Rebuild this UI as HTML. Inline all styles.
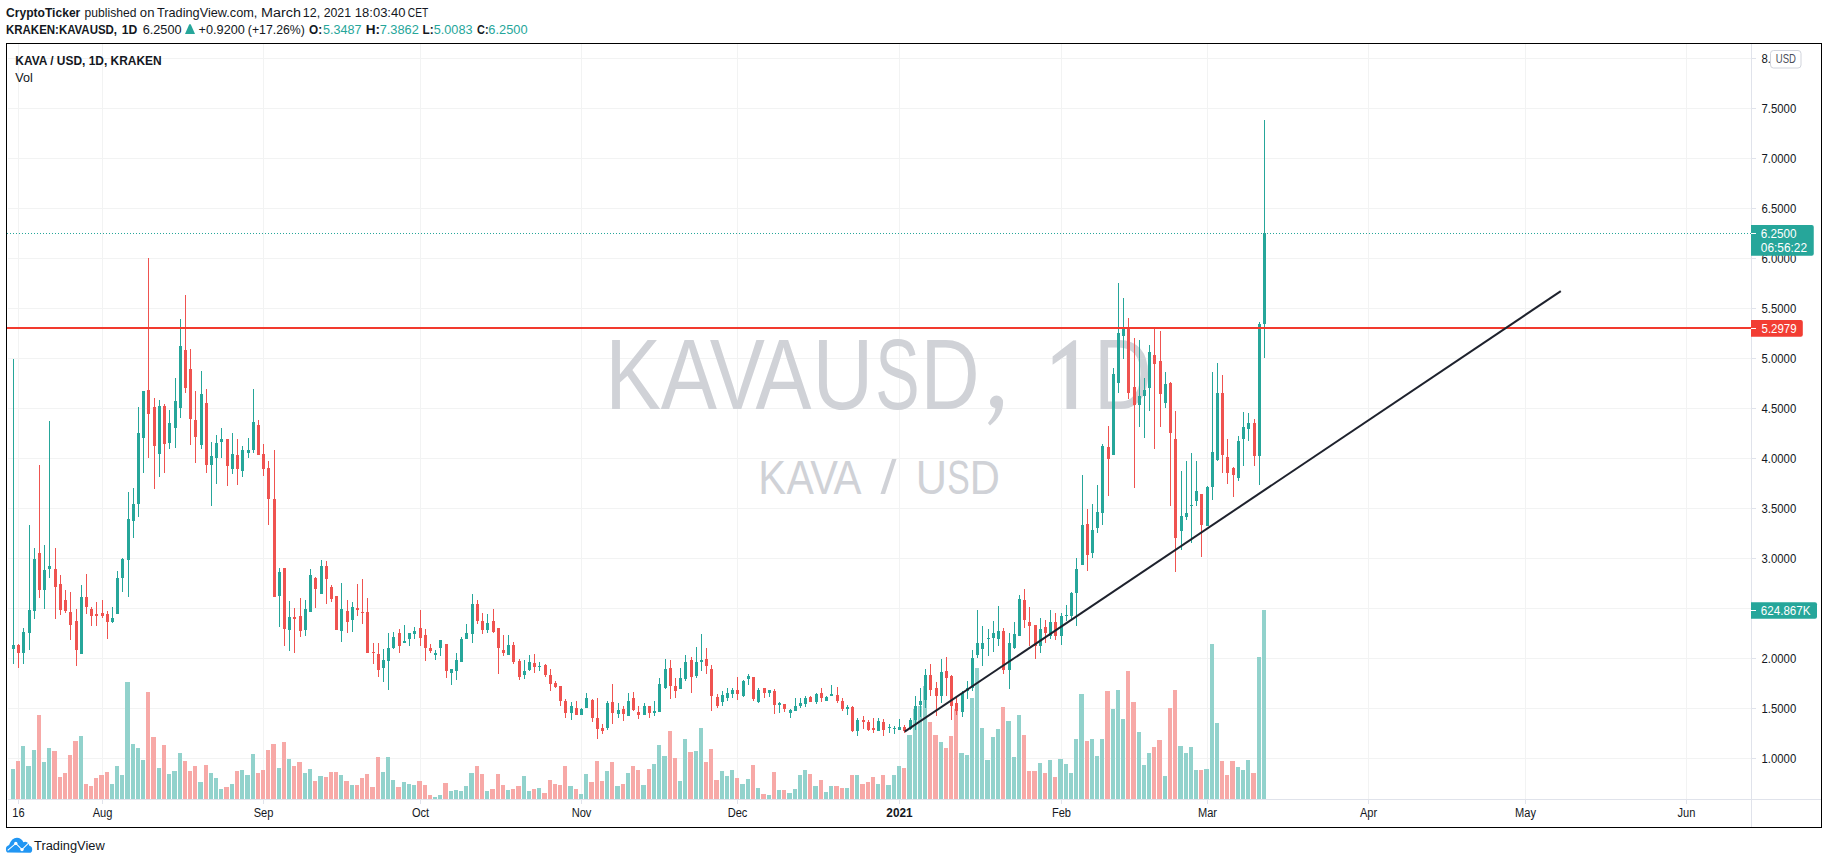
<!DOCTYPE html><html><head><meta charset="utf-8"><title>KAVAUSD</title>
<style>html,body{margin:0;padding:0;background:#fff;overflow:hidden}svg{display:block}text{font-family:"Liberation Sans",sans-serif}</style></head><body>
<svg width="1828" height="864" viewBox="0 0 1828 864">
<rect width="1828" height="864" fill="#fff"/>
<text transform="translate(6.00,17) scale(0.9830,1)" font-size="12.3" fill="#131722" font-weight="bold">CryptoTicker</text>
<text transform="translate(84.62,17) scale(0.9848,1)" font-size="12.3" fill="#131722">published</text>
<text transform="translate(139.85,17) scale(1.0674,1)" font-size="12.3" fill="#131722">on</text>
<text transform="translate(157.01,17) scale(1.0345,1)" font-size="12.3" fill="#131722">TradingView.com,</text>
<text transform="translate(261.12,17) scale(1.1679,1)" font-size="12.3" fill="#131722">March</text>
<text transform="translate(302.75,17) scale(1.0162,1)" font-size="12.3" fill="#131722">12,</text>
<text transform="translate(323.68,17) scale(1.0022,1)" font-size="12.3" fill="#131722">2021</text>
<text transform="translate(354.81,17) scale(1.0589,1)" font-size="12.3" fill="#131722">18:03:40</text>
<text transform="translate(407.78,17) scale(0.8315,1)" font-size="12.3" fill="#131722">CET</text>
<text transform="translate(6.03,33.6) scale(0.9337,1)" font-size="12.3" fill="#131722" font-weight="bold">KRAKEN:KAVAUSD,</text>
<text transform="translate(121.73,33.6) scale(0.9908,1)" font-size="12.3" fill="#131722" font-weight="bold">1D</text>
<text transform="translate(142.65,33.6) scale(1.0352,1)" font-size="12.3" fill="#131722">6.2500</text>
<text transform="translate(198.58,33.6) scale(1.0338,1)" font-size="12.3" fill="#131722">+0.9200</text>
<text transform="translate(247.84,33.6) scale(0.9988,1)" font-size="12.3" fill="#131722">(+17.26%)</text>
<text transform="translate(309.02,33.6) scale(0.9603,1)" font-size="12.3" fill="#131722" font-weight="bold">O:</text>
<text transform="translate(323.10,33.6) scale(1.0244,1)" font-size="12.3" fill="#26a69a">5.3487</text>
<text transform="translate(365.79,33.6) scale(1.1027,1)" font-size="12.3" fill="#131722" font-weight="bold">H:</text>
<text transform="translate(379.64,33.6) scale(1.0420,1)" font-size="12.3" fill="#26a69a">7.3862</text>
<text transform="translate(422.61,33.6) scale(0.9580,1)" font-size="12.3" fill="#131722" font-weight="bold">L:</text>
<text transform="translate(433.69,33.6) scale(1.0331,1)" font-size="12.3" fill="#26a69a">5.0083</text>
<text transform="translate(477.05,33.6) scale(0.8857,1)" font-size="12.3" fill="#131722" font-weight="bold">C:</text>
<text transform="translate(488.35,33.6) scale(1.0434,1)" font-size="12.3" fill="#26a69a">6.2500</text>
<path d="M185 33.9L189.3 24.2H190.7L195 33.9Z" fill="#26a69a"/>
<path d="M8 758.5H1751 M8 708.5H1751 M8 658.5H1751 M8 608.5H1751 M8 558.5H1751 M8 508.5H1751 M8 458.5H1751 M8 408.5H1751 M8 358.5H1751 M8 308.5H1751 M8 258.5H1751 M8 208.5H1751 M8 158.5H1751 M8 108.5H1751 M8 58.5H1751 M18.5 44V799 M102.5 44V799 M263.5 44V799 M420.5 44V799 M581.5 44V799 M737.5 44V799 M899.5 44V799 M1061.5 44V799 M1207.5 44V799 M1368.5 44V799 M1525.5 44V799 M1686.5 44V799" stroke="rgba(42,46,57,0.06)" stroke-width="1" fill="none" shape-rendering="crispEdges"/>
<text transform="translate(605.34,409) scale(0.8341,1)" font-size="100.3" fill="#d0d2d7">K</text>
<text transform="translate(660.64,409) scale(0.8405,1)" font-size="100.3" fill="#d0d2d7">A</text>
<text transform="translate(709.64,409) scale(0.8240,1)" font-size="100.3" fill="#d0d2d7">V</text>
<text transform="translate(755.54,409) scale(0.8360,1)" font-size="100.3" fill="#d0d2d7">A</text>
<text transform="translate(812.61,409) scale(0.8392,1)" font-size="100.3" fill="#d0d2d7">U</text>
<text transform="translate(875.28,409) scale(0.6633,1)" font-size="100.3" fill="#d0d2d7">S</text>
<text transform="translate(920.58,409) scale(0.8164,1)" font-size="100.3" fill="#d0d2d7">D</text>
<text transform="translate(1094.02,409) scale(0.7996,1)" font-size="100.3" fill="#d0d2d7">D</text>
<path d="M1076.1 340.2V409H1066.5V354.9L1052.6 364.7V356.6L1073.5 340.2Z" fill="#d0d2d7"/>
<path d="M990 402A6.5 6.5 0 0 1 1003.1 402C1003.1 412 998 419 990 425.6L987.9 422.9C993 417 995.5 412 995.3 408C992 407.5 990 405 990 402Z" fill="#d0d2d7"/>
<text transform="translate(758.37,494) scale(0.8537,1)" font-size="49.0" fill="#d0d2d7">K</text>
<text transform="translate(786.62,494) scale(0.8341,1)" font-size="49.0" fill="#d0d2d7">A</text>
<text transform="translate(810.22,494) scale(0.8465,1)" font-size="49.0" fill="#d0d2d7">V</text>
<text transform="translate(833.52,494) scale(0.8556,1)" font-size="49.0" fill="#d0d2d7">A</text>
<text transform="translate(880.50,494) scale(1.1753,1)" font-size="49.0" fill="#d0d2d7">/</text>
<text transform="translate(915.76,494) scale(0.8841,1)" font-size="49.0" fill="#d0d2d7">U</text>
<text transform="translate(947.37,494) scale(0.6877,1)" font-size="49.0" fill="#d0d2d7">S</text>
<text transform="translate(969.68,494) scale(0.8511,1)" font-size="49.0" fill="#d0d2d7">D</text>
<path d="M11 769H15V799H11ZM21 746H25V799H21ZM26 766H31V799H26ZM32 750H36V799H32ZM42 762H46V799H42ZM47 748H51V799H47ZM79 736H83V799H79ZM110 784H114V799H110ZM115 766H119V799H115ZM120 775H124V799H120ZM125 682H130V799H125ZM131 744H135V799H131ZM136 748H140V799H136ZM141 760H145V799H141ZM157 768H161V799H157ZM167 774H171V799H167ZM172 771H177V799H172ZM178 753H182V799H178ZM198 782H203V799H198ZM209 773H213V799H209ZM214 778H218V799H214ZM219 789H223V799H219ZM230 784H234V799H230ZM240 770H244V799H240ZM245 775H250V799H245ZM251 754H255V799H251ZM277 768H281V799H277ZM287 759H291V799H287ZM303 773H307V799H303ZM308 769H312V799H308ZM318 776H323V799H318ZM339 775H343V799H339ZM350 785H354V799H350ZM381 772H385V799H381ZM386 757H390V799H386ZM391 780H395V799H391ZM402 782H406V799H402ZM407 784H411V799H407ZM412 785H416V799H412ZM433 797H437V799H433ZM438 795H442V799H438ZM449 791H453V799H449ZM454 790H458V799H454ZM459 791H463V799H459ZM464 786H468V799H464ZM469 773H474V799H469ZM485 791H489V799H485ZM506 790H510V799H506ZM522 776H526V799H522ZM527 791H531V799H527ZM537 788H541V799H537ZM568 786H573V799H568ZM579 794H583V799H579ZM584 774H588V799H584ZM605 771H609V799H605ZM615 786H620V799H615ZM626 773H630V799H626ZM641 785H646V799H641ZM652 764H656V799H652ZM657 745H661V799H657ZM662 756H667V799H662ZM678 781H682V799H678ZM683 739H687V799H683ZM694 751H698V799H694ZM699 728H703V799H699ZM720 771H724V799H720ZM725 776H729V799H725ZM730 770H734V799H730ZM740 784H745V799H740ZM746 779H750V799H746ZM756 788H760V799H756ZM767 795H771V799H767ZM777 790H781V799H777ZM787 793H792V799H787ZM793 789H797V799H793ZM798 775H802V799H798ZM803 770H807V799H803ZM813 786H818V799H813ZM824 792H828V799H824ZM829 786H833V799H829ZM845 788H849V799H845ZM855 775H859V799H855ZM876 784H880V799H876ZM886 785H891V799H886ZM892 775H896V799H892ZM897 766H901V799H897ZM907 735H912V799H907ZM913 709H917V799H913ZM918 706H922V799H918ZM923 686H927V799H923ZM939 742H943V799H939ZM959 753H964V799H959ZM965 755H969V799H965ZM970 698H974V799H970ZM975 668H979V799H975ZM980 728H984V799H980ZM985 760H990V799H985ZM991 737H995V799H991ZM996 729H1000V799H996ZM1006 721H1011V799H1006ZM1012 757H1016V799H1012ZM1017 715H1021V799H1017ZM1038 763H1042V799H1038ZM1048 760H1052V799H1048ZM1058 759H1063V799H1058ZM1064 764H1068V799H1064ZM1069 773H1073V799H1069ZM1074 739H1078V799H1074ZM1079 694H1084V799H1079ZM1090 739H1094V799H1090ZM1095 756H1099V799H1095ZM1100 739H1104V799H1100ZM1111 709H1115V799H1111ZM1116 690H1120V799H1116ZM1121 719H1125V799H1121ZM1137 732H1141V799H1137ZM1142 765H1146V799H1142ZM1147 753H1151V799H1147ZM1163 776H1167V799H1163ZM1178 746H1183V799H1178ZM1184 753H1188V799H1184ZM1189 747H1193V799H1189ZM1194 770H1198V799H1194ZM1204 769H1209V799H1204ZM1210 644H1214V799H1210ZM1215 723H1219V799H1215ZM1236 767H1240V799H1236ZM1241 770H1245V799H1241ZM1246 760H1250V799H1246ZM1257 657H1261V799H1257ZM1262 610H1266V799H1262Z" fill="#92d2cc" shape-rendering="crispEdges"/>
<path d="M16 761H20V799H16ZM37 715H41V799H37ZM52 751H57V799H52ZM58 777H62V799H58ZM63 773H67V799H63ZM68 755H72V799H68ZM73 741H78V799H73ZM84 784H88V799H84ZM89 786H93V799H89ZM94 778H98V799H94ZM99 775H104V799H99ZM105 772H109V799H105ZM146 692H150V799H146ZM151 737H156V799H151ZM162 745H166V799H162ZM183 761H187V799H183ZM188 771H192V799H188ZM193 766H197V799H193ZM204 765H208V799H204ZM224 787H229V799H224ZM235 771H239V799H235ZM256 773H260V799H256ZM261 770H265V799H261ZM266 750H270V799H266ZM271 744H276V799H271ZM282 742H286V799H282ZM292 766H296V799H292ZM297 762H302V799H297ZM313 781H317V799H313ZM324 777H328V799H324ZM329 772H333V799H329ZM334 772H338V799H334ZM344 781H349V799H344ZM355 785H359V799H355ZM360 778H364V799H360ZM365 774H369V799H365ZM370 787H375V799H370ZM376 757H380V799H376ZM396 787H401V799H396ZM417 781H422V799H417ZM423 785H427V799H423ZM428 795H432V799H428ZM443 783H448V799H443ZM475 766H479V799H475ZM480 774H484V799H480ZM490 789H495V799H490ZM496 774H500V799H496ZM501 785H505V799H501ZM511 789H515V799H511ZM516 786H521V799H516ZM532 789H536V799H532ZM542 793H547V799H542ZM548 780H552V799H548ZM553 784H557V799H553ZM558 785H562V799H558ZM563 766H567V799H563ZM574 789H578V799H574ZM589 782H594V799H589ZM595 761H599V799H595ZM600 781H604V799H600ZM610 762H614V799H610ZM621 784H625V799H621ZM631 766H635V799H631ZM636 770H640V799H636ZM647 769H651V799H647ZM668 731H672V799H668ZM673 758H677V799H673ZM688 752H693V799H688ZM704 762H708V799H704ZM709 749H713V799H709ZM714 780H719V799H714ZM735 778H739V799H735ZM751 765H755V799H751ZM761 794H766V799H761ZM772 772H776V799H772ZM782 790H786V799H782ZM808 774H812V799H808ZM819 780H823V799H819ZM834 786H839V799H834ZM840 788H844V799H840ZM850 775H854V799H850ZM860 784H865V799H860ZM866 782H870V799H866ZM871 777H875V799H871ZM881 775H885V799H881ZM902 768H906V799H902ZM928 722H932V799H928ZM933 735H938V799H933ZM944 748H948V799H944ZM949 736H953V799H949ZM954 709H958V799H954ZM1001 707H1005V799H1001ZM1022 735H1026V799H1022ZM1027 771H1031V799H1027ZM1032 771H1037V799H1032ZM1043 773H1047V799H1043ZM1053 777H1057V799H1053ZM1085 741H1089V799H1085ZM1105 691H1110V799H1105ZM1126 671H1130V799H1126ZM1131 702H1136V799H1131ZM1152 747H1156V799H1152ZM1157 740H1162V799H1157ZM1168 708H1172V799H1168ZM1173 690H1177V799H1173ZM1199 770H1203V799H1199ZM1220 761H1224V799H1220ZM1225 775H1229V799H1225ZM1230 761H1235V799H1230ZM1251 773H1256V799H1251Z" fill="#f7a9a7" shape-rendering="crispEdges"/>
<path d="M13 359H14V664H13Z M12 645H15V649H12ZM23 628H24V664H23Z M22 632H25V653H22ZM29 525H30V650H29Z M28 610H31V633H28ZM34 548H35V619H34Z M33 559H36V611H33ZM44 545H45V609H44Z M43 570H46V590H43ZM49 421H50V578H49Z M48 566H51V569H48ZM81 585H82V654H81Z M80 597H83V654H80ZM112 607H113V623H112Z M111 618H114V622H111ZM117 571H118V614H117Z M116 578H119V614H116ZM122 558H123V592H122Z M121 559H124V578H121ZM128 492H129V597H128Z M127 519H130V560H127ZM133 488H134V538H133Z M132 504H135V521H132ZM138 407H139V517H138Z M137 433H140V504H137ZM143 391H144V473H143Z M142 391H145V438H142ZM159 400H160V477H159Z M158 406H161V454H158ZM169 410H170V449H169Z M168 423H171V443H168ZM175 378H176V448H175Z M174 401H177V428H174ZM180 319H181V418H180Z M179 346H182V408H179ZM201 371H202V449H201Z M200 394H203V445H200ZM211 442H212V506H211Z M210 456H213V465H210ZM216 435H217V484H216Z M215 443H218V458H215ZM221 428H222V458H221Z M220 439H223V442H220ZM232 433H233V474H232Z M231 454H234V469H231ZM242 446H243V477H242Z M241 450H244V471H241ZM248 438H249V458H248Z M247 450H250V453H247ZM253 389H254V453H253Z M252 422H255V450H252ZM279 568H280V627H279Z M278 572H281V596H278ZM289 601H290V651H289Z M288 617H291V630H288ZM305 600H306V636H305Z M304 609H307V630H304ZM310 569H311V612H310Z M309 575H312V612H309ZM321 560H322V594H321Z M320 566H323V594H320ZM341 583H342V642H341Z M340 609H343V631H340ZM352 602H353V632H352Z M351 607H354V620H351ZM383 649H384V682H383Z M382 660H385V668H382ZM388 633H389V690H388Z M387 648H390V661H387ZM393 632H394V649H393Z M392 637H395V648H392ZM404 625H405V643H404Z M403 641H406V643H403ZM409 633H410V646H409Z M408 633H411V639H408ZM414 627H415V639H414Z M413 631H416V634H413ZM435 650H436V660H435Z M434 653H437V655H434ZM440 640H441V656H440Z M439 640H442V648H439ZM451 669H452V685H451Z M450 669H453V673H450ZM456 653H457V680H456Z M455 660H458V671H455ZM461 637H462V662H461Z M460 639H463V662H460ZM466 624H467V639H466Z M465 633H468V639H465ZM472 594H473V643H472Z M471 604H474V634H471ZM487 614H488V633H487Z M486 623H489V630H486ZM508 635H509V655H508Z M507 645H510V655H507ZM524 660H525V679H524Z M523 671H526V675H523ZM529 655H530V671H529Z M528 662H531V670H528ZM539 662H540V671H539Z M538 666H541V667H538ZM571 702H572V720H571Z M570 706H573V713H570ZM581 708H582V715H581Z M580 709H583V715H580ZM586 693H587V708H586Z M585 698H588V708H585ZM607 701H608V730H607Z M606 703H609V728H606ZM618 703H619V718H618Z M617 710H620V714H617ZM628 693H629V716H628Z M627 701H630V716H627ZM644 703H645V715H644Z M643 706H646V715H643ZM654 701H655V716H654Z M653 711H656V713H653ZM659 678H660V712H659Z M658 684H661V712H658ZM665 659H666V689H665Z M664 669H667V688H664ZM680 668H681V689H680Z M679 678H682V689H679ZM685 655H686V681H685Z M684 662H687V679H684ZM696 647H697V678H696Z M695 662H698V676H695ZM701 634H702V671H701Z M700 660H703V662H700ZM722 691H723V706H722Z M721 695H724V702H721ZM727 688H728V701H727Z M726 693H729V698H726ZM732 688H733V698H732Z M731 690H734V694H731ZM743 680H744V697H743Z M742 681H745V696H742ZM748 674H749V685H748Z M747 676H750V679H747ZM758 688H759V703H758Z M757 690H760V702H757ZM769 690H770V697H769Z M768 690H771V693H768ZM779 702H780V713H779Z M778 703H781V705H778ZM790 709H791V718H790Z M789 710H792V713H789ZM795 698H796V711H795Z M794 706H797V711H794ZM800 698H801V708H800Z M799 703H802V706H799ZM805 696H806V707H805Z M804 698H807V704H804ZM816 693H817V704H816Z M815 694H818V702H815ZM826 696H827V701H826Z M825 697H828V701H825ZM831 685H832V696H831Z M830 694H833V696H830ZM847 705H848V715H847Z M846 707H849V709H846ZM857 718H858V736H857Z M856 720H859V731H856ZM878 718H879V731H878Z M877 721H880V731H877ZM889 724H890V733H889Z M888 727H891V728H888ZM894 726H895V734H894Z M893 728H896V729H893ZM899 719H900V730H899Z M898 727H901V730H898ZM910 718H911V730H910Z M909 720H912V729H909ZM915 696H916V730H915Z M914 706H917V720H914ZM920 688H921V717H920Z M919 701H922V705H919ZM925 669H926V708H925Z M924 675H927V700H924ZM941 659H942V703H941Z M940 672H943V696H940ZM962 691H963V717H962Z M961 693H964V712H961ZM967 681H968V699H967Z M966 688H969V691H966ZM972 650H973V691H972Z M971 658H974V688H971ZM977 610H978V658H977Z M976 643H979V655H976ZM982 626H983V666H982Z M981 643H984V649H981ZM988 629H989V656H988Z M987 638H990V639H987ZM993 621H994V652H993Z M992 633H995V638H992ZM998 606H999V646H998Z M997 631H1000V639H997ZM1009 633H1010V689H1009Z M1008 643H1011V670H1008ZM1014 622H1015V649H1014Z M1013 634H1016V648H1013ZM1019 595H1020V636H1019Z M1018 599H1021V636H1018ZM1040 618H1041V653H1040Z M1039 629H1042V646H1039ZM1050 610H1051V639H1050Z M1049 622H1052V636H1049ZM1061 613H1062V645H1061Z M1060 616H1063V636H1060ZM1066 605H1067V621H1066Z M1065 615H1068V616H1065ZM1071 592H1072V619H1071Z M1070 593H1073V616H1070ZM1076 558H1077V626H1076Z M1075 569H1078V593H1075ZM1082 475H1083V565H1082Z M1081 525H1084V565H1081ZM1092 504H1093V558H1092Z M1091 530H1094V553H1091ZM1097 485H1098V533H1097Z M1096 512H1099V528H1096ZM1102 444H1103V525H1102Z M1101 446H1104V513H1101ZM1113 368H1114V455H1113Z M1112 374H1115V455H1112ZM1118 283H1119V393H1118Z M1117 333H1120V383H1117ZM1123 298H1124V359H1123Z M1122 328H1125V336H1122ZM1139 340H1140V427H1139Z M1138 396H1141V405H1138ZM1144 378H1145V438H1144Z M1143 390H1146V396H1143ZM1149 345H1150V411H1149Z M1148 352H1151V388H1148ZM1165 372H1166V408H1165Z M1164 384H1167V403H1164ZM1181 471H1182V550H1181Z M1180 516H1183V531H1180ZM1186 461H1187V520H1186Z M1185 513H1188V517H1185ZM1191 453H1192V543H1191Z M1190 505H1193V506H1190ZM1196 461H1197V506H1196Z M1195 491H1198V501H1195ZM1207 486H1208V526H1207Z M1206 487H1209V526H1206ZM1212 372H1213V500H1212Z M1211 452H1214V487H1211ZM1217 363H1218V461H1217Z M1216 393H1219V460H1216ZM1238 436H1239V481H1238Z M1237 441H1240V478H1237ZM1243 412H1244V466H1243Z M1242 427H1245V439H1242ZM1248 413H1249V441H1248Z M1247 423H1250V429H1247ZM1259 322H1260V485H1259Z M1258 324H1261V456H1258ZM1264 120H1265V358H1264Z M1263 233H1266V324H1263Z" fill="#26a69a" shape-rendering="crispEdges"/>
<path d="M18 644H19V668H18Z M17 645H20V653H17ZM39 465H40V598H39Z M38 553H41V590H38ZM55 548H56V619H55Z M54 569H57V587H54ZM60 575H61V615H60Z M59 584H62V610H59ZM65 590H66V613H65Z M64 600H67V611H64ZM70 592H71V640H70Z M69 612H72V625H69ZM76 609H77V666H76Z M75 621H78V650H75ZM86 574H87V614H86Z M85 597H88V607H85ZM91 607H92V626H91Z M90 609H93V616H90ZM96 602H97V626H96Z M95 614H98V616H95ZM102 600H103V618H102Z M101 613H104V616H101ZM107 611H108V639H107Z M106 614H109V622H106ZM148 258H149V458H148Z M147 390H150V414H147ZM154 398H155V489H154Z M153 407H156V446H153ZM164 404H165V473H164Z M163 406H166V444H163ZM185 295H186V393H185Z M184 350H187V388H184ZM190 349H191V445H190Z M189 369H192V419H189ZM195 391H196V463H195Z M194 420H197V437H194ZM206 389H207V473H206Z M205 403H208V465H205ZM227 439H228V486H227Z M226 439H229V466H226ZM237 439H238V485H237Z M236 455H239V469H236ZM258 420H259V455H258Z M257 425H260V455H257ZM263 444H264V476H263Z M262 454H265V469H262ZM268 461H269V525H268Z M267 468H270V499H267ZM274 450H275V597H274Z M273 499H276V597H273ZM284 568H285V646H284Z M283 568H286V629H283ZM294 608H295V653H294Z M293 617H296V619H293ZM300 598H301V637H300Z M299 616H302V631H299ZM315 577H316V608H315Z M314 578H317V589H314ZM326 561H327V604H326Z M325 566H328V579H325ZM331 585H332V602H331Z M330 587H333V599H330ZM336 596H337V630H336Z M335 596H338V630H335ZM347 600H348V633H347Z M346 611H349V622H346ZM357 584H358V616H357Z M356 608H359V610H356ZM362 579H363V624H362Z M361 612H364V613H361ZM367 598H368V653H367Z M366 612H369V653H366ZM373 643H374V664H373Z M372 652H375V653H372ZM378 643H379V677H378Z M377 654H380V670H377ZM399 629H400V653H399Z M398 633H401V646H398ZM420 610H421V646H420Z M419 628H422V638H419ZM425 629H426V661H425Z M424 635H427V648H424ZM430 644H431V653H430Z M429 648H432V651H429ZM446 644H447V678H446Z M445 644H448V671H445ZM477 600H478V624H477Z M476 604H479V621H476ZM482 613H483V634H482Z M481 621H484V630H481ZM493 609H494V633H493Z M492 621H495V632H492ZM498 628H499V674H498Z M497 628H500V648H497ZM503 635H504V656H503Z M502 650H505V653H502ZM513 642H514V664H513Z M512 645H515V662H512ZM519 659H520V680H519Z M518 661H521V677H518ZM534 654H535V673H534Z M533 663H536V667H533ZM545 664H546V677H545Z M544 665H547V675H544ZM550 669H551V691H550Z M549 675H552V684H549ZM555 681H556V688H555Z M554 683H557V687H554ZM560 686H561V706H560Z M559 686H562V701H559ZM565 699H566V718H565Z M564 701H567V713H564ZM576 701H577V715H576Z M575 708H578V715H575ZM592 699H593V722H592Z M591 700H594V718H591ZM597 698H598V739H597Z M596 718H599V729H596ZM602 724H603V734H602Z M601 728H604V731H601ZM612 684H613V724H612Z M611 702H614V713H611ZM623 706H624V721H623Z M622 709H625V714H622ZM633 692H634V711H633Z M632 698H635V710H632ZM638 706H639V719H638Z M637 712H640V715H637ZM649 706H650V718H649Z M648 706H651V713H648ZM670 660H671V699H670Z M669 668H672V686H669ZM675 678H676V698H675Z M674 686H677V691H674ZM691 657H692V693H691Z M690 660H693V677H690ZM706 648H707V674H706Z M705 659H708V666H705ZM711 665H712V711H711Z M710 669H713V696H710ZM717 694H718V708H717Z M716 697H719V706H716ZM737 677H738V700H737Z M736 690H739V694H736ZM753 677H754V701H753Z M752 677H755V699H752ZM764 688H765V698H764Z M763 688H766V693H763ZM774 689H775V714H774Z M773 691H776V705H773ZM784 704H785V712H784Z M783 704H786V709H783ZM810 696H811V702H810Z M809 697H812V702H809ZM821 688H822V702H821Z M820 693H823V698H820ZM837 687H838V703H837Z M836 695H839V701H836ZM842 698H843V711H842Z M841 701H844V709H841ZM852 706H853V732H852Z M851 707H854V731H851ZM863 716H864V729H863Z M862 720H865V722H862ZM868 720H869V731H868Z M867 722H870V730H867ZM873 718H874V733H873Z M872 728H875V730H872ZM883 719H884V736H883Z M882 722H885V730H882ZM904 725H905V733H904Z M903 727H906V731H903ZM930 664H931V696H930Z M929 675H932V690H929ZM936 682H937V716H936Z M935 688H938V696H935ZM946 657H947V696H946Z M945 671H948V678H945ZM951 675H952V720H951Z M950 676H953V706H950ZM956 696H957V715H956Z M955 703H958V711H955ZM1003 628H1004V674H1003Z M1002 631H1005V670H1002ZM1024 589H1025V628H1024Z M1023 600H1026V620H1023ZM1029 607H1030V646H1029Z M1028 622H1031V626H1028ZM1035 625H1036V659H1035Z M1034 625H1037V646H1034ZM1045 620H1046V643H1045Z M1044 627H1047V633H1044ZM1055 613H1056V640H1055Z M1054 622H1057V636H1054ZM1087 509H1088V571H1087Z M1086 524H1089V555H1086ZM1108 426H1109V496H1108Z M1107 447H1110V459H1107ZM1128 318H1129V399H1128Z M1127 328H1130V393H1127ZM1134 338H1135V488H1134Z M1133 387H1136V405H1133ZM1154 328H1155V449H1154Z M1153 355H1156V364H1153ZM1160 331H1161V427H1160Z M1159 361H1162V394H1159ZM1170 382H1171V506H1170Z M1169 383H1172V433H1169ZM1175 411H1176V572H1175Z M1174 439H1177V538H1174ZM1201 494H1202V557H1201Z M1200 494H1203V525H1200ZM1222 375H1223V473H1222Z M1221 393H1224V455H1221ZM1227 439H1228V484H1227Z M1226 457H1229V473H1226ZM1233 467H1234V497H1233Z M1232 468H1235V475H1232ZM1254 419H1255V466H1254Z M1253 423H1256V456H1253Z" fill="#ef5350" shape-rendering="crispEdges"/>
<path d="M7 328H1751" stroke="#f23a2e" stroke-width="2" fill="none"/>
<path d="M904.7 731.7L1560.8 291.1" stroke="#1e222d" stroke-width="2" fill="none" stroke-linecap="butt"/>
<path d="M7 233.5H1751" stroke="#26a69a" stroke-width="1" stroke-dasharray="1 2" fill="none"/>
<rect x="6" y="44" width="1" height="755" fill="#fff"/>
<path d="M1751.5 44V827 M8 799.5H1821" stroke="#e0e3eb" stroke-width="1" fill="none" shape-rendering="crispEdges"/>
<path d="M1752 758.5H1756 M1752 708.5H1756 M1752 658.5H1756 M1752 608.5H1756 M1752 558.5H1756 M1752 508.5H1756 M1752 458.5H1756 M1752 408.5H1756 M1752 358.5H1756 M1752 308.5H1756 M1752 258.5H1756 M1752 208.5H1756 M1752 158.5H1756 M1752 108.5H1756 M1752 58.5H1756" stroke="#e0e3eb" stroke-width="1" shape-rendering="crispEdges"/>
<text x="1761.5" y="763" font-size="12.3" fill="#131722" textLength="34.7" lengthAdjust="spacingAndGlyphs">1.0000</text>
<text x="1761.5" y="713" font-size="12.3" fill="#131722" textLength="34.7" lengthAdjust="spacingAndGlyphs">1.5000</text>
<text x="1761.5" y="663" font-size="12.3" fill="#131722" textLength="34.7" lengthAdjust="spacingAndGlyphs">2.0000</text>
<text x="1761.5" y="613" font-size="12.3" fill="#131722" textLength="34.7" lengthAdjust="spacingAndGlyphs">2.5000</text>
<text x="1761.5" y="563" font-size="12.3" fill="#131722" textLength="34.7" lengthAdjust="spacingAndGlyphs">3.0000</text>
<text x="1761.5" y="513" font-size="12.3" fill="#131722" textLength="34.7" lengthAdjust="spacingAndGlyphs">3.5000</text>
<text x="1761.5" y="463" font-size="12.3" fill="#131722" textLength="34.7" lengthAdjust="spacingAndGlyphs">4.0000</text>
<text x="1761.5" y="413" font-size="12.3" fill="#131722" textLength="34.7" lengthAdjust="spacingAndGlyphs">4.5000</text>
<text x="1761.5" y="363" font-size="12.3" fill="#131722" textLength="34.7" lengthAdjust="spacingAndGlyphs">5.0000</text>
<text x="1761.5" y="313" font-size="12.3" fill="#131722" textLength="34.7" lengthAdjust="spacingAndGlyphs">5.5000</text>
<text x="1761.5" y="263" font-size="12.3" fill="#131722" textLength="34.7" lengthAdjust="spacingAndGlyphs">6.0000</text>
<text x="1761.5" y="213" font-size="12.3" fill="#131722" textLength="34.7" lengthAdjust="spacingAndGlyphs">6.5000</text>
<text x="1761.5" y="163" font-size="12.3" fill="#131722" textLength="34.7" lengthAdjust="spacingAndGlyphs">7.0000</text>
<text x="1761.5" y="113" font-size="12.3" fill="#131722" textLength="34.7" lengthAdjust="spacingAndGlyphs">7.5000</text>
<text x="1761.5" y="63" font-size="12.3" fill="#131722" textLength="34.7" lengthAdjust="spacingAndGlyphs">8.0000</text>
<rect x="1770.5" y="50.5" width="30.5" height="17.5" rx="3" fill="#fff" stroke="#d1d4dc" stroke-width="1"/>
<text x="1775.8" y="63.3" font-size="12.3" fill="#4a4e58" textLength="20.1" lengthAdjust="spacingAndGlyphs">USD</text>
<path d="M18.5 800V804 M102.5 800V804 M263.5 800V804 M420.5 800V804 M581.5 800V804 M737.5 800V804 M899.5 800V804 M1061.5 800V804 M1207.5 800V804 M1368.5 800V804 M1525.5 800V804 M1686.5 800V804" stroke="#e0e3eb" stroke-width="1" shape-rendering="crispEdges"/>
<text x="18.5" y="817" font-size="12.3" fill="#131722" textLength="12.31" lengthAdjust="spacingAndGlyphs" text-anchor="middle">16</text>
<text x="102.5" y="817" font-size="12.3" fill="#131722" textLength="19.7" lengthAdjust="spacingAndGlyphs" text-anchor="middle">Aug</text>
<text x="263.5" y="817" font-size="12.3" fill="#131722" textLength="19.7" lengthAdjust="spacingAndGlyphs" text-anchor="middle">Sep</text>
<text x="420.5" y="817" font-size="12.3" fill="#131722" textLength="17.22" lengthAdjust="spacingAndGlyphs" text-anchor="middle">Oct</text>
<text x="581.5" y="817" font-size="12.3" fill="#131722" textLength="19.69" lengthAdjust="spacingAndGlyphs" text-anchor="middle">Nov</text>
<text x="737.5" y="817" font-size="12.3" fill="#131722" textLength="19.69" lengthAdjust="spacingAndGlyphs" text-anchor="middle">Dec</text>
<text x="899.5" y="817" font-size="12.3" fill="#131722" font-weight="bold" textLength="26.27" lengthAdjust="spacingAndGlyphs" text-anchor="middle">2021</text>
<text x="1061.5" y="817" font-size="12.3" fill="#131722" textLength="19.08" lengthAdjust="spacingAndGlyphs" text-anchor="middle">Feb</text>
<text x="1207.5" y="817" font-size="12.3" fill="#131722" textLength="19.06" lengthAdjust="spacingAndGlyphs" text-anchor="middle">Mar</text>
<text x="1368.5" y="817" font-size="12.3" fill="#131722" textLength="17.23" lengthAdjust="spacingAndGlyphs" text-anchor="middle">Apr</text>
<text x="1525.5" y="817" font-size="12.3" fill="#131722" textLength="20.91" lengthAdjust="spacingAndGlyphs" text-anchor="middle">May</text>
<text x="1686.5" y="817" font-size="12.3" fill="#131722" textLength="17.85" lengthAdjust="spacingAndGlyphs" text-anchor="middle">Jun</text>
<path d="M1751 225H1811.75Q1813.75 225 1813.75 227V253.8Q1813.75 255.8 1811.75 255.8H1751Z" fill="#26a69a"/>
<path d="M1751 233.5H1756" stroke="#fff" stroke-width="1"/>
<text x="1760.8" y="237.6" font-size="12.3" fill="#fff" textLength="35.8" lengthAdjust="spacingAndGlyphs">6.2500</text>
<text x="1760.8" y="251.5" font-size="12.3" fill="#fff" textLength="46.2" lengthAdjust="spacingAndGlyphs">06:56:22</text>
<path d="M1751 320H1800.8Q1802.8 320 1802.8 322V334.7Q1802.8 336.7 1800.8 336.7H1751Z" fill="#f23d33"/>
<path d="M1751 328.5H1756" stroke="#fff" stroke-width="1"/>
<text x="1761.5" y="332.6" font-size="12.3" fill="#fff" textLength="35.1" lengthAdjust="spacingAndGlyphs">5.2979</text>
<path d="M1751 602.2H1815Q1817 602.2 1817 604.2V616.7Q1817 618.7 1815 618.7H1751Z" fill="#26a69a"/>
<path d="M1751 610.5H1756" stroke="#fff" stroke-width="1"/>
<text x="1760.8" y="614.6" font-size="12.3" fill="#fff" textLength="49.7" lengthAdjust="spacingAndGlyphs">624.867K</text>
<text x="15.3" y="65.2" font-size="12.3" fill="#131722" font-weight="bold" textLength="146.4" lengthAdjust="spacingAndGlyphs">KAVA / USD, 1D, KRAKEN</text>
<text x="15.3" y="81.8" font-size="12.3" fill="#131722" textLength="17.5" lengthAdjust="spacingAndGlyphs">Vol</text>
<rect x="6.5" y="43.5" width="1815" height="783.5" fill="none" stroke="#000" stroke-width="1" shape-rendering="crispEdges"/>
<g transform="translate(5.9,837.8)"><path d="M2.5 14.8Q0 14.8 0 11.2Q0 8.4 3.2 7.3Q5.8 0 11 0Q15.5 0 17.5 4.5Q19.5 3.5 21.5 4.8Q23 6 23.5 8Q26.3 8.6 26.3 11.6Q26.3 15 23.5 15Z" fill="#2196f3"/><path d="M1.8 12.6L9.9 5.6L16.1 11.8L22.6 5.4" stroke="#fff" stroke-width="1.1" fill="none"/><circle cx="9.9" cy="5.6" r="1.7" fill="#fff"/><circle cx="16.1" cy="11.8" r="1.7" fill="#fff"/></g>
<text x="34.1" y="850" font-size="12.5" fill="#131722" textLength="70.6" lengthAdjust="spacingAndGlyphs">TradingView</text>
</svg></body></html>
